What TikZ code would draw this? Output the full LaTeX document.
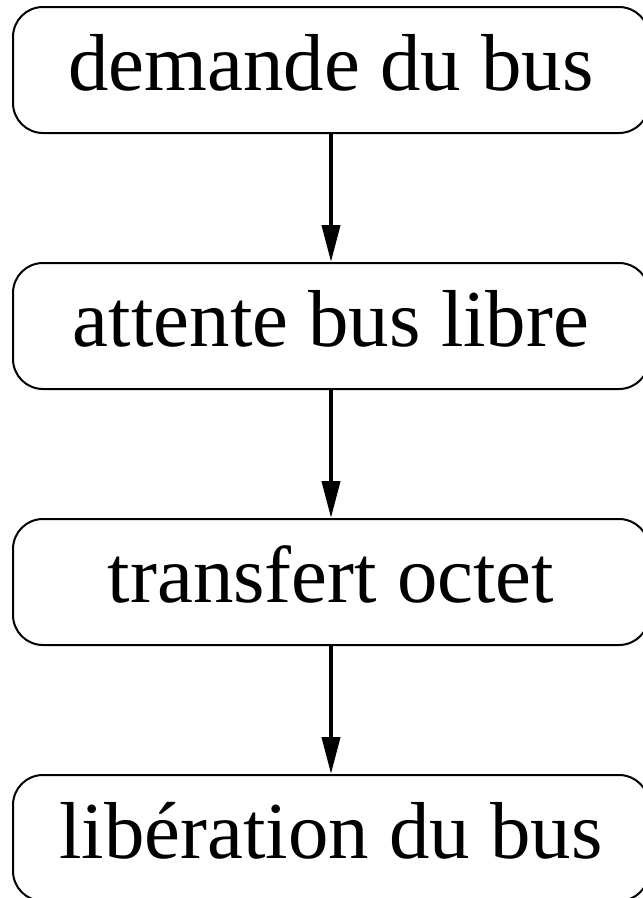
\documentclass[tikz,border=0pt]{standalone}
\usepackage{fontspec}
\setmainfont{Liberation Serif}
\usetikzlibrary{arrows.meta}
\begin{document}
\begin{tikzpicture}[x=1pt,y=1pt,
  stagebox/.style={draw, line width=2pt, rounded corners=30pt,
    minimum width=636pt, minimum height=126pt, inner sep=0pt,
    text height=60pt, text depth=20pt,
    font=\fontsize{80.8}{97}\selectfont},
  flow/.style={line width=4pt, -{Triangle[length=37pt,width=18pt]}}]
\useasboundingbox (0,0) rectangle (643,-898);
\node[stagebox] (demande) at (331,-70) {demande du bus};
\node[stagebox] (attente) at (331,-326) {attente bus libre};
\node[stagebox] (transfert) at (331,-582) {transfert octet};
\node[stagebox] (liberation) at (331,-838) {libération du bus};
\draw[flow] (demande.south) -- (attente.north);
\draw[flow] (attente.south) -- (transfert.north);
\draw[flow] (transfert.south) -- (liberation.north);
\end{tikzpicture}
\end{document}
